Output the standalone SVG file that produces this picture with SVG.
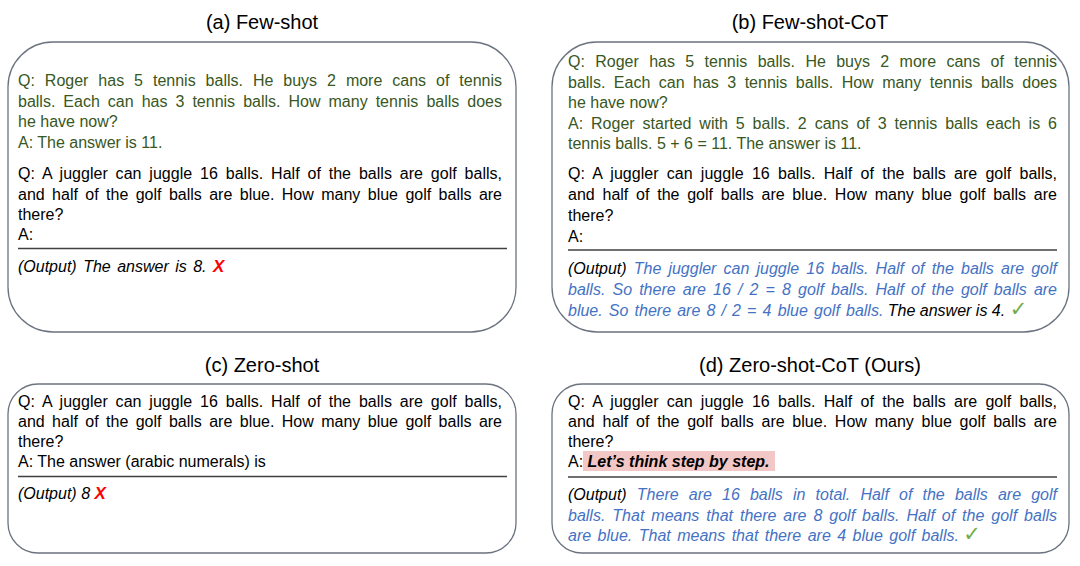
<svg xmlns="http://www.w3.org/2000/svg" width="1080" height="566" viewBox="0 0 1080 566">
<style>
.t{font-family:"Liberation Sans",Arial,sans-serif;font-size:16px;fill:#000}
.title{font-family:"Liberation Sans",Arial,sans-serif;font-size:20px;fill:#000;text-anchor:middle}
.g{fill:#385723}
.bl{fill:#4472c4}
.k{fill:#000}
.i{font-style:italic}
.x{fill:#ff0000;font-weight:bold;font-style:italic;font-size:17px}
.ck{fill:#70ad47;font-family:"DejaVu Sans",sans-serif;font-size:21px;font-style:normal}
.box{fill:#fff;stroke:#6b7280;stroke-width:1.3}
.hr{stroke:#404040;stroke-width:1.5}
</style>
<rect width="1080" height="566" fill="#fff"/>

<g id="panel-a">
<text class="title" x="262" y="29">(a) Few-shot</text>
<rect class="box" x="8" y="42" width="508" height="290" rx="45" ry="45"/>
<text class="t g" x="18" y="86" word-spacing="5.5" textLength="484" lengthAdjust="spacing">Q: Roger has 5 tennis balls. He buys 2 more cans of tennis</text>
<text class="t g" x="18" y="106.5" word-spacing="3.6" textLength="484" lengthAdjust="spacing">balls. Each can has 3 tennis balls. How many tennis balls does</text>
<text class="t g" x="18" y="127">he have now?</text>
<text class="t g" x="18" y="147.5">A: The answer is 11.</text>
<text class="t" x="18" y="179" word-spacing="3.4" textLength="484" lengthAdjust="spacing">Q: A juggler can juggle 16 balls. Half of the balls are golf balls,</text>
<text class="t" x="18" y="199.5" word-spacing="3" textLength="484" lengthAdjust="spacing">and half of the golf balls are blue. How many blue golf balls are</text>
<text class="t" x="18" y="220">there?</text>
<text class="t" x="18" y="240">A:</text>
<line class="hr" x1="18" y1="248.5" x2="507" y2="248.5"/>
<text class="t i" x="18" y="272" word-spacing="2">(Output) The answer is 8.  <tspan class="x">X</tspan></text>
</g>

<g id="panel-b">
<text class="title" x="810" y="29">(b) Few-shot-CoT</text>
<rect class="box" x="552" y="42" width="517" height="290" rx="45" ry="45"/>
<text class="t g" x="568" y="67" word-spacing="5.9" textLength="489" lengthAdjust="spacing">Q: Roger has 5 tennis balls. He buys 2 more cans of tennis</text>
<text class="t g" x="568" y="87.5" word-spacing="4" textLength="489" lengthAdjust="spacing">balls. Each can has 3 tennis balls. How many tennis balls does</text>
<text class="t g" x="568" y="108">he have now?</text>
<text class="t g" x="568" y="128.5" word-spacing="3.5" textLength="489" lengthAdjust="spacing">A: Roger started with 5 balls. 2 cans of 3 tennis balls each is 6</text>
<text class="t g" x="568" y="149">tennis balls. 5 + 6 = 11. The answer is 11.</text>
<text class="t" x="568" y="179" word-spacing="3.75" textLength="489" lengthAdjust="spacing">Q: A juggler can juggle 16 balls. Half of the balls are golf balls,</text>
<text class="t" x="568" y="200" word-spacing="3.3" textLength="489" lengthAdjust="spacing">and half of the golf balls are blue. How many blue golf balls are</text>
<text class="t" x="568" y="221">there?</text>
<text class="t" x="568" y="242">A:</text>
<line class="hr" x1="568" y1="250" x2="1057" y2="250"/>
<text class="t i" x="568" y="274" word-spacing="2.7" textLength="489" lengthAdjust="spacing">(Output) <tspan class="bl">The juggler can juggle 16 balls. Half of the balls are golf</tspan></text>
<text class="t i bl" x="568" y="295" word-spacing="2.7" textLength="489" lengthAdjust="spacing">balls. So there are 16 / 2 = 8 golf balls. Half of the golf balls are</text>
<text class="t i" x="568" y="316"><tspan class="bl" word-spacing="1.7">blue. So there are 8 / 2 = 4 blue golf balls.</tspan> The answer is 4.   <tspan class="ck">✓</tspan></text>
</g>

<g id="panel-c">
<text class="title" x="262" y="372">(c) Zero-shot</text>
<rect class="box" x="8" y="384" width="508" height="169" rx="30" ry="30"/>
<text class="t" x="18" y="407" word-spacing="3.4" textLength="484" lengthAdjust="spacing">Q: A juggler can juggle 16 balls. Half of the balls are golf balls,</text>
<text class="t" x="18" y="427" word-spacing="3" textLength="484" lengthAdjust="spacing">and half of the golf balls are blue. How many blue golf balls are</text>
<text class="t" x="18" y="447">there?</text>
<text class="t" x="18" y="467">A: The answer (arabic numerals) is</text>
<line class="hr" x1="18" y1="476.5" x2="507" y2="476.5"/>
<text class="t i" x="18" y="499">(Output) 8 <tspan class="x">X</tspan></text>
</g>

<g id="panel-d">
<text class="title" x="810" y="372">(d) Zero-shot-CoT (Ours)</text>
<rect class="box" x="552" y="384" width="517" height="169" rx="30" ry="30"/>
<text class="t" x="568" y="407" word-spacing="3.75" textLength="489" lengthAdjust="spacing">Q: A juggler can juggle 16 balls. Half of the balls are golf balls,</text>
<text class="t" x="568" y="427" word-spacing="3.3" textLength="489" lengthAdjust="spacing">and half of the golf balls are blue. How many blue golf balls are</text>
<text class="t" x="568" y="447">there?</text>
<rect x="583" y="451" width="192" height="20" fill="#f4c7c7"/>
<text class="t" x="568" y="467">A: <tspan font-weight="bold" font-style="italic">Let’s think step by step.</tspan></text>
<line class="hr" x1="568" y1="477" x2="1057" y2="477"/>
<text class="t i" x="568" y="500" word-spacing="5.7" textLength="489" lengthAdjust="spacing">(Output) <tspan class="bl">There are 16 balls in total. Half of the balls are golf</tspan></text>
<text class="t i bl" x="568" y="520.5" word-spacing="2.5" textLength="489" lengthAdjust="spacing">balls. That means that there are 8 golf balls. Half of the golf balls</text>
<text class="t i" x="568" y="541"><tspan class="bl" word-spacing="2">are blue. That means that there are 4 blue golf balls.</tspan>   <tspan class="ck">✓</tspan></text>
</g>
</svg>
